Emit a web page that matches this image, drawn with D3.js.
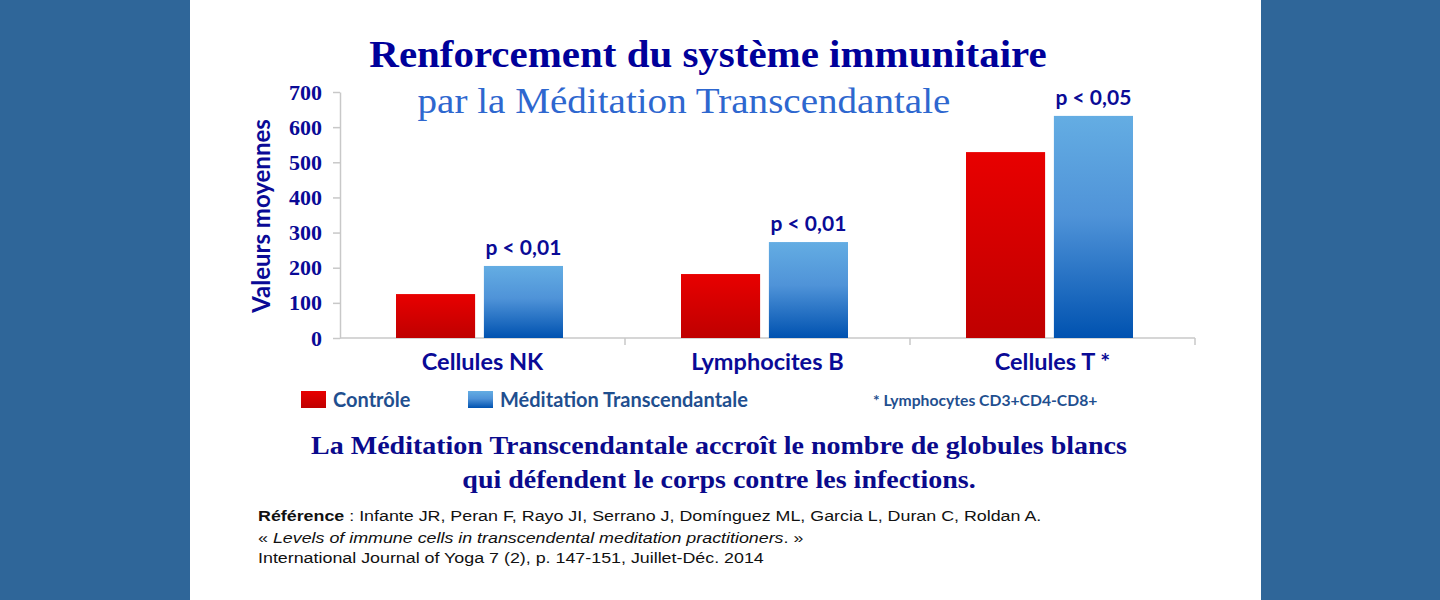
<!DOCTYPE html>
<html>
<head>
<meta charset="utf-8">
<script src="https://cdn.jsdelivr.net/npm/d3@7/dist/d3.min.js"></script>
<style>
  html, body { margin: 0; padding: 0; background: #2f6699; }
  svg { display: block; }
</style>
</head>
<body>
<script>
// ---- data ----
const categories = ["Cellules NK", "Lymphocites B", "Cellules T *"];
const seriesNames = ["Contrôle", "Méditation Transcendantale"];
const controleValues = [125, 182, 529];
const mtValues = [205, 273, 632];
const pLabels = ["p < 0,01", "p < 0,01", "p < 0,05"];
const yTicks = [0, 100, 200, 300, 400, 500, 600, 700];
const titleLines = ["Renforcement du système immunitaire", "par la Méditation Transcendantale"];
const conclusionLines = ["La Méditation Transcendantale accroît le nombre de globules blancs", "qui défendent le corps contre les infections."];
const footnote = "* Lymphocytes CD3+CD4-CD8+";

const W = 1440, H = 600;
const svg = d3.select("body").append("svg").attr("width", W).attr("height", H);

// background panels
svg.append("rect").attr("x", 0).attr("y", 0).attr("width", W).attr("height", H).attr("fill", "#2f6699");
svg.append("rect").attr("x", 190).attr("y", 0).attr("width", 1071).attr("height", H).attr("fill", "#ffffff");

// gradients
const defs = svg.append("defs");
const gRed = defs.append("linearGradient").attr("id", "gRed").attr("x1", 0).attr("y1", 0).attr("x2", 0).attr("y2", 1);
gRed.append("stop").attr("offset", "0%").attr("stop-color", "#e80000");
gRed.append("stop").attr("offset", "100%").attr("stop-color", "#bf0000");
const gBlue = defs.append("linearGradient").attr("id", "gBlue").attr("x1", 0).attr("y1", 0).attr("x2", 0).attr("y2", 1);
gBlue.append("stop").attr("offset", "0%").attr("stop-color", "#64ade3");
gBlue.append("stop").attr("offset", "45%").attr("stop-color", "#4f93d8");
gBlue.append("stop").attr("offset", "100%").attr("stop-color", "#0052b0");
const fills = ["url(#gRed)", "url(#gBlue)"];

// scales
const y = d3.scaleLinear().domain([0, 700]).range([338, 92]);
const x0 = d3.scaleBand().domain(categories).range([340, 1195]).padding(0);
const x1 = d3.scaleBand().domain(seriesNames).range([56, 223]).paddingInner(0.1);

const navy = "#0a0a96";
const legendBlue = "#1f4f8f";
const sans = "Lato, 'Open Sans', sans-serif";
const serif = "'Liberation Serif', 'Times New Roman', serif";

// helper: horizontally stretched centered text
function stretched(cx, cy, sx, txt) {
  return svg.append("text").attr("transform", `translate(${cx},${cy}) scale(${sx},1)`)
    .attr("x", 0).attr("y", 0).attr("text-anchor", "middle").text(txt);
}

// titles
stretched(708, 67, 1.107, titleLines[0])
  .attr("font-family", serif).attr("font-weight", "bold").attr("font-size", 37).attr("fill", "#00009a");
stretched(684, 113, 1.086, titleLines[1])
  .attr("font-family", serif).attr("font-size", 36).attr("fill", "#2e67cf");

// y axis
const yAxis = svg.append("g").attr("transform", "translate(340,0)")
  .call(d3.axisLeft(y).tickValues(yTicks).tickSize(7).tickSizeOuter(0).tickPadding(11));
yAxis.select(".domain").attr("stroke", "#c8c8c8").attr("stroke-width", 1.5);
yAxis.selectAll(".tick line").attr("stroke", "#c8c8c8").attr("stroke-width", 1.5);
yAxis.selectAll(".tick text").attr("font-family", serif).attr("font-weight", "bold")
  .attr("font-size", 22).attr("fill", navy);

svg.append("text").attr("transform", "translate(270,216) rotate(-90)").attr("text-anchor", "middle")
  .attr("font-family", sans).attr("font-weight", "bold").attr("font-size", 24)
  .attr("fill", navy).text("Valeurs moyennes");

// x baseline with category boundary ticks
svg.append("line").attr("x1", 340).attr("x2", 1195).attr("y1", y(0)).attr("y2", y(0))
  .attr("stroke", "#c8c8c8").attr("stroke-width", 1.5);
const bounds = categories.map(c => x0(c)).concat([x0(categories[categories.length - 1]) + x0.bandwidth()]);
svg.selectAll(".bt").data(bounds.slice(1)).join("line")
  .attr("x1", d => d).attr("x2", d => d).attr("y1", y(0)).attr("y2", y(0) + 7)
  .attr("stroke", "#c8c8c8").attr("stroke-width", 1.5);

// bars
const rows = categories.map((c, i) => ({ cat: c, vals: [controleValues[i], mtValues[i]], p: pLabels[i] }));
const grp = svg.selectAll(".cat").data(rows).join("g")
  .attr("transform", d => `translate(${x0(d.cat)},0)`);
grp.selectAll("rect").data(d => d.vals.map((v, k) => ({ s: seriesNames[k], v, k }))).join("rect")
  .attr("x", d => x1(d.s)).attr("width", x1.bandwidth())
  .attr("y", d => y(d.v)).attr("height", d => y(0) - y(d.v))
  .attr("fill", d => fills[d.k]);
grp.append("text").attr("x", x1(seriesNames[1]) + x1.bandwidth() / 2)
  .attr("y", d => y(d.vals[1]) - 11).attr("text-anchor", "middle")
  .attr("font-family", sans).attr("font-weight", "bold").attr("font-size", 21)
  .attr("fill", navy).text(d => d.p);
grp.append("text").attr("x", x0.bandwidth() / 2).attr("y", 370).attr("text-anchor", "middle")
  .attr("font-family", sans).attr("font-weight", "bold").attr("font-size", 23.5)
  .attr("fill", navy).text(d => d.cat);

// legend
const legendX = [301, 468];
seriesNames.forEach((s, k) => {
  svg.append("rect").attr("x", legendX[k]).attr("y", 391).attr("width", 25).attr("height", 17).attr("fill", fills[k]);
  svg.append("text").attr("x", legendX[k] + 32).attr("y", 407)
    .attr("font-family", sans).attr("font-weight", "bold").attr("font-size", 20)
    .attr("fill", legendBlue).text(s);
});
svg.append("text").attr("x", 873).attr("y", 406)
  .attr("font-family", sans).attr("font-weight", "bold").attr("font-size", 15.7)
  .attr("fill", legendBlue).text(footnote);

// conclusion
conclusionLines.forEach((t, i) => {
  stretched(719, 454 + i * 34, 1.12, t)
    .attr("font-family", serif).attr("font-weight", "bold").attr("font-size", 25).attr("fill", "#0a0a8c");
});

// reference
const ref = svg.append("g").attr("transform", "translate(258,0) scale(1.152,1)")
  .attr("font-family", "'Liberation Sans', Arial, sans-serif").attr("font-size", 15.5).attr("fill", "#111");
const r1 = ref.append("text").attr("x", 0).attr("y", 521);
r1.append("tspan").attr("font-weight", "bold").text("Référence");
r1.append("tspan").text(" : Infante JR, Peran F, Rayo JI, Serrano J, Domínguez ML, Garcia L, Duran C, Roldan A.");
const r2 = ref.append("text").attr("x", 0).attr("y", 543);
r2.append("tspan").text("« ");
r2.append("tspan").attr("font-style", "italic").text("Levels of immune cells in transcendental meditation practitioners");
r2.append("tspan").text(". »");
ref.append("text").attr("x", 0).attr("y", 563).text("International Journal of Yoga 7 (2), p. 147-151, Juillet-Déc. 2014");
</script>
</body>
</html>
